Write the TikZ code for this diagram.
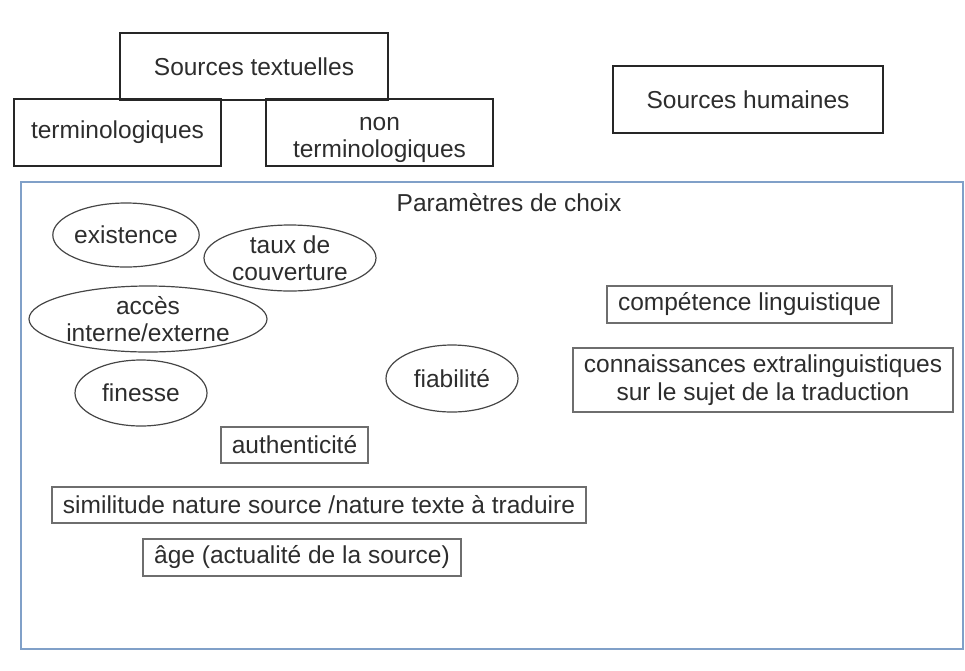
\documentclass[tikz,border=0pt]{standalone}
\usepackage{fontspec}
\setmainfont{Liberation Sans}
\usetikzlibrary{shapes.geometric}
\definecolor{txt}{RGB}{45,45,45}
\definecolor{framecol}{RGB}{128,160,200}
\definecolor{greyline}{RGB}{110,110,110}
\definecolor{ellline}{RGB}{70,70,70}
\tikzset{
  base/.style={font=\fontsize{24.5}{27.5}\selectfont, text=txt, align=center, inner sep=0pt},
  topbox/.style={base, draw=black!85, line width=1.8pt, rectangle},
  greybox/.style={base, draw=greyline, line width=1.2pt, rectangle},
  oval/.style={base, draw=ellline, line width=1.2pt, ellipse},
  framebox/.style={draw=framecol, line width=1.5pt, rectangle, inner sep=0pt}
}
\begin{document}
\begin{tikzpicture}[x=1pt,y=-1pt]
\useasboundingbox (0,0) rectangle (965,670);
% outer frame
\node[framebox, minimum width=942pt, minimum height=467pt] (frame) at (492,415.5) {};
\node[base] (param) at (509,203) {Paramètres de choix};
% top boxes
\node[topbox, minimum width=268pt, minimum height=67pt] (st) at (254,66.5) {Sources textuelles};
\node[topbox, minimum width=207pt, minimum height=67pt] (term) at (117.5,132.5) {terminologiques};
\node[topbox, minimum width=227pt, minimum height=67pt] (nonterm) at (379.5,132.5) {\raisebox{-6pt}[\height][\depth]{\begin{tabular}{@{}c@{}}non\\terminologiques\end{tabular}}};
\node[topbox, minimum width=270pt, minimum height=67pt] (sh) at (748,99.5) {Sources humaines};
% ellipses
\node[oval, minimum width=132pt, minimum height=64pt] (exist) at (126,235) {existence};
\node[oval, minimum width=172pt, minimum height=66pt] (taux) at (290,258) {taux de\\couverture};
\node[oval, minimum width=238pt, minimum height=66pt] (acces) at (148,319) {accès\\interne/externe};
\node[oval, minimum width=132pt, minimum height=66pt] (fin) at (141,393) {finesse};
\node[oval, minimum width=132pt, minimum height=67pt] (fiab) at (452,378.5) {fiabilité};
% grey boxes
\node[greybox, minimum width=285pt, minimum height=37pt] (comp) at (749.5,304.5) {compétence linguistique};
\node[greybox, minimum width=380pt, minimum height=64pt] (conn) at (763,380) {connaissances extralinguistiques\\sur le sujet de la traduction};
\node[greybox, minimum width=147pt, minimum height=36pt] (auth) at (294.5,445) {authenticité};
\node[greybox, minimum width=534pt, minimum height=36pt] (simil) at (319,505) {similitude nature source /nature texte à traduire};
\node[greybox, minimum width=318pt, minimum height=37pt] (age) at (302,557.5) {âge (actualité de la source)};
\end{tikzpicture}
\end{document}
